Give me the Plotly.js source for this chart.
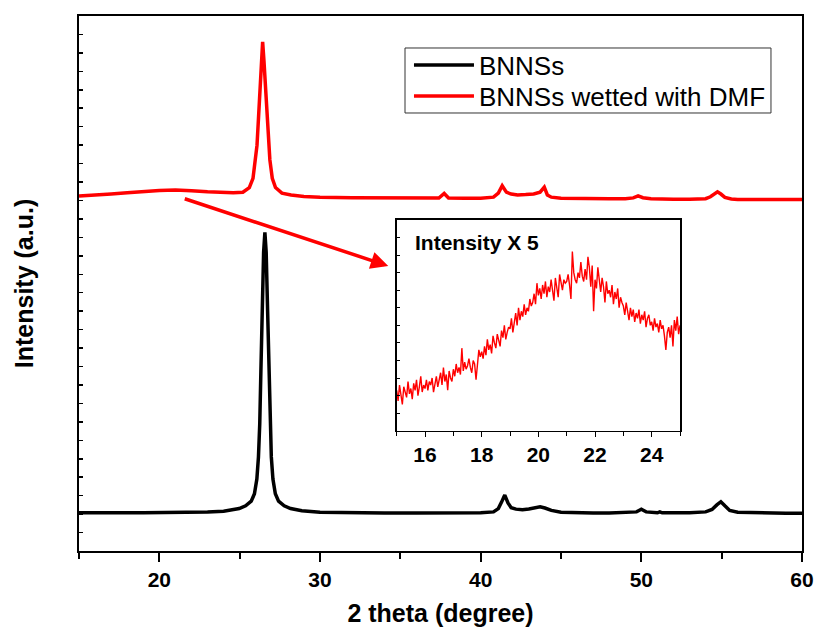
<!DOCTYPE html>
<html>
<head>
<meta charset="utf-8">
<script src="https://cdn.plot.ly/plotly-3.0.1.min.js"></script>
<style>html,body{margin:0;padding:0;background:#fff;}#chart{width:815px;height:634px;}</style>
</head>
<body>
<div id="chart"></div>
<script>
// ---- Main pattern: BNNSs (black) ----
const bnnsX = [15, 16, 17, 18, 19, 20, 21, 22, 23, 24, 24.97, 25.37, 25.72, 25.92, 26.07, 26.17, 26.25, 26.32, 26.40, 26.49, 26.57, 26.65, 26.74, 26.82, 26.89, 26.97, 27.07, 27.22, 27.42, 27.77, 28.17, 28.87, 30, 32, 34, 36, 38, 40, 40.8, 41.1, 41.3, 41.5, 41.7, 41.9, 42.2, 42.6, 43.0, 43.4, 43.7, 44.0, 44.4, 45, 46, 47, 48, 49, 49.7, 50.0, 50.3, 51.0, 51.15, 51.3, 52, 53, 54, 54.4, 54.7, 54.95, 55.2, 55.5, 56, 57, 58, 59, 60];
const bnnsY = [2.07, 2.06, 2.07, 2.07, 2.08, 2.08, 2.09, 2.10, 2.12, 2.16, 2.30, 2.45, 2.70, 3.10, 3.90, 5.10, 6.90, 9.70, 13.0, 16.2, 17.27, 16.2, 13.0, 9.70, 6.90, 5.10, 3.90, 3.10, 2.70, 2.45, 2.30, 2.18, 2.10, 2.07, 2.06, 2.06, 2.06, 2.07, 2.12, 2.30, 2.65, 3.03, 2.60, 2.35, 2.27, 2.24, 2.28, 2.36, 2.40, 2.33, 2.20, 2.10, 2.07, 2.06, 2.06, 2.07, 2.12, 2.26, 2.12, 2.07, 2.12, 2.07, 2.06, 2.07, 2.12, 2.25, 2.50, 2.67, 2.45, 2.20, 2.10, 2.07, 2.06, 2.05, 2.04];

// ---- Main pattern: BNNSs wetted with DMF (red) ----
const dmfX = [15, 16, 17, 18, 19, 20, 21, 21.5, 22, 23, 24, 24.6, 25.2, 25.6, 25.83, 25.98, 26.08, 26.18, 26.28, 26.35, 26.43, 26.51, 26.58, 26.68, 26.78, 26.88, 27.03, 27.23, 27.63, 28.2, 29, 30, 32, 34, 36, 37.4, 37.73, 38.0, 39, 40, 40.8, 41.1, 41.34, 41.6, 41.9, 42.3, 42.8, 43.3, 43.7, 43.96, 44.15, 44.4, 45, 46, 47, 48, 49, 49.5, 49.8, 50.1, 50.6, 51, 52, 53, 54, 54.3, 54.55, 54.74, 54.95, 55.2, 55.6, 56, 57, 58, 59, 60];
const dmfY = [19.24, 19.28, 19.35, 19.42, 19.50, 19.54, 19.57, 19.56, 19.53, 19.47, 19.43, 19.42, 19.45, 19.70, 20.20, 21.20, 22.00, 23.60, 25.50, 26.60, 27.60, 26.60, 25.50, 23.60, 22.00, 21.20, 20.20, 19.70, 19.40, 19.30, 19.22, 19.18, 19.15, 19.13, 19.12, 19.13, 19.38, 19.14, 19.12, 19.12, 19.18, 19.40, 19.80, 19.45, 19.35, 19.30, 19.32, 19.35, 19.45, 19.72, 19.30, 19.18, 19.12, 19.10, 19.10, 19.10, 19.10, 19.14, 19.25, 19.15, 19.10, 19.08, 19.07, 19.07, 19.10, 19.20, 19.38, 19.47, 19.35, 19.17, 19.08, 19.06, 19.06, 19.06, 19.05, 19.05];

// ---- Inset: DMF pattern 15-25 deg, intensity x5 ----
const insetX = [15.00,15.05,15.10,15.15,15.20,15.25,15.30,15.35,15.40,15.45,15.50,15.55,15.60,15.65,15.70,15.75,15.80,15.85,15.90,15.95,
16.00,16.05,16.10,16.15,16.20,16.25,16.30,16.35,16.40,16.45,16.50,16.55,16.60,16.65,16.70,16.75,16.80,16.85,16.90,16.95,
17.00,17.05,17.10,17.15,17.20,17.25,17.30,17.35,17.40,17.45,17.50,17.55,17.60,17.65,17.70,17.75,17.80,17.85,17.90,17.95,
18.00,18.05,18.10,18.15,18.20,18.25,18.30,18.35,18.40,18.45,18.50,18.55,18.60,18.65,18.70,18.75,18.80,18.85,18.90,18.95,
19.00,19.05,19.10,19.15,19.20,19.25,19.30,19.35,19.40,19.45,19.50,19.55,19.60,19.65,19.70,19.75,19.80,19.85,19.90,19.95,
20.00,20.05,20.10,20.15,20.20,20.25,20.30,20.35,20.40,20.45,20.50,20.55,20.60,20.65,20.70,20.75,20.80,20.85,20.90,20.95,
21.00,21.05,21.10,21.15,21.20,21.25,21.30,21.35,21.40,21.45,21.50,21.55,21.60,21.65,21.70,21.75,21.80,21.85,21.90,21.95,
22.00,22.05,22.10,22.15,22.20,22.25,22.30,22.35,22.40,22.45,22.50,22.55,22.60,22.65,22.70,22.75,22.80,22.85,22.90,22.95,
23.00,23.05,23.10,23.15,23.20,23.25,23.30,23.35,23.40,23.45,23.50,23.55,23.60,23.65,23.70,23.75,23.80,23.85,23.90,23.95,
24.00,24.05,24.10,24.15,24.20,24.25,24.30,24.35,24.40,24.45,24.50,24.55,24.60,24.65,24.70,24.75,24.80,24.85,24.90,24.95,
25.00];
const insetY = [2.3,1.7,2.6,2.0,1.5,2.5,2.2,1.9,2.8,2.1,2.4,1.8,2.7,2.3,2.9,2.0,2.5,3.1,2.2,2.6,
2.4,2.9,2.3,2.8,2.6,3.0,2.2,2.7,3.1,2.5,2.9,3.3,2.6,3.6,2.8,3.2,2.3,3.4,3.0,2.8,
3.5,3.1,3.8,3.3,3.6,3.2,4.7,3.4,3.9,3.5,3.7,4.1,3.6,3.3,4.0,3.8,2.9,3.6,4.6,4.2,
4.5,4.1,4.8,4.3,5.2,4.6,4.9,4.4,5.4,5.0,4.7,5.5,5.1,4.8,5.7,5.3,6.0,5.2,5.6,5.9,
5.8,6.4,5.6,6.2,6.7,6.0,7.0,6.3,6.8,6.5,7.2,6.6,7.0,6.8,7.5,7.1,7.3,7.8,7.2,8.4,
7.7,8.1,7.5,8.3,7.8,8.5,7.6,8.2,7.9,8.6,8.0,7.4,8.7,8.2,7.6,8.9,8.3,8.0,8.6,8.4,
8.5,8.9,8.3,7.5,10.2,9.0,8.6,8.4,9.0,8.7,9.6,8.8,8.5,9.2,8.6,9.9,9.3,8.2,9.4,6.8,
8.6,8.1,9.3,8.4,7.9,8.7,8.2,7.3,8.5,7.8,8.0,7.6,8.3,7.2,7.9,7.5,8.1,7.0,7.6,7.3,
7.1,6.6,7.3,6.8,6.3,7.0,6.5,6.9,6.2,6.7,6.4,6.9,6.1,6.6,6.3,6.8,5.9,6.4,6.6,6.0,
6.2,5.7,6.4,5.9,6.1,5.6,6.3,5.8,6.0,5.4,4.6,5.6,5.9,5.3,6.0,4.8,6.3,5.7,6.5,5.5,
6.0];

const legendNames = ['BNNSs', 'BNNSs wetted with DMF'];
const xTitle = '2 theta (degree)';
const yTitle = 'Intensity (a.u.)';
const insetLabel = 'Intensity X 5';

const FONT = 'Liberation Sans, Arial, Helvetica, sans-serif';

const traces = [
  {x: bnnsX, y: bnnsY, type: 'scatter', mode: 'lines', name: legendNames[0], legend: 'legend',
   line: {color: '#000000', width: 3.5}, xaxis: 'x', yaxis: 'y'},
  {x: dmfX, y: dmfY, type: 'scatter', mode: 'lines', name: legendNames[1], legend: 'legend2',
   line: {color: '#ff0000', width: 3.5}, xaxis: 'x', yaxis: 'y'},
  {x: insetX, y: insetY, type: 'scatter', mode: 'lines', showlegend: false,
   line: {color: '#ff0000', width: 1.4}, xaxis: 'x2', yaxis: 'y2'}
];

const legendStyle = {xanchor: 'left', yanchor: 'middle',
  bgcolor: 'rgba(0,0,0,0)', borderwidth: 0,
  font: {family: FONT, size: 26, color: '#000'}, itemwidth: 60};

const layout = {
  width: 815, height: 634,
  margin: {l: 79, r: 13, t: 16, b: 83},
  paper_bgcolor: '#ffffff', plot_bgcolor: '#ffffff',
  font: {family: FONT, color: '#000'},
  showlegend: true,
  legend: Object.assign({x: 0.4564, y: 0.9084}, legendStyle),
  legend2: Object.assign({x: 0.4564, y: 0.8505}, legendStyle),
  shapes: [
    {type: 'rect', xref: 'paper', yref: 'paper', x0: 0.4509, x1: 0.9571, y0: 0.8187, y1: 0.9402,
     line: {color: '#333333', width: 1}, fillcolor: '#ffffff', layer: 'below'}
  ],
  xaxis: {domain: [0, 1], range: [15, 60], anchor: 'y',
    tickmode: 'linear', tick0: 0, dtick: 10,
    ticks: 'outside', ticklen: 9, tickwidth: 2, tickcolor: '#000',
    minor: {dtick: 5, tick0: 0, ticks: 'outside', ticklen: 6, tickwidth: 2, tickcolor: '#000'},
    showline: true, linewidth: 2, linecolor: '#000', mirror: true,
    showgrid: false, zeroline: false,
    tickfont: {family: FONT, size: 21, weight: 'bold'},
    title: {text: xTitle, font: {family: FONT, size: 25, weight: 'bold'}, standoff: 14}},
  yaxis: {domain: [0, 1], range: [0, 29], anchor: 'x',
    tickmode: 'linear', tick0: 0, dtick: 1,
    ticks: 'inside', ticklen: 4, tickwidth: 1.5, tickcolor: '#000',
    showticklabels: false,
    showline: true, linewidth: 2, linecolor: '#000', mirror: true,
    showgrid: false, zeroline: false,
    title: {text: yTitle, font: {family: FONT, size: 25, weight: 'bold'}, standoff: 36}},
  xaxis2: {domain: [0.4394, 0.8313], range: [15, 25], anchor: 'y2',
    tickmode: 'linear', tick0: 0, dtick: 2,
    ticks: 'outside', ticklen: 5, tickwidth: 1, tickcolor: '#000',
    minor: {dtick: 1, tick0: 0, ticks: 'outside', ticklen: 4, tickwidth: 1, tickcolor: '#000'},
    showline: true, linewidth: 1.5, linecolor: '#000', mirror: true,
    showgrid: false, zeroline: false,
    tickfont: {family: FONT, size: 21, weight: 'bold'}},
  yaxis2: {domain: [0.2249, 0.6187], range: [0, 12], anchor: 'x2',
    tickmode: 'linear', tick0: 0, dtick: 1,
    ticks: 'inside', ticklen: 3, tickwidth: 1, tickcolor: '#000',
    showticklabels: false,
    showline: true, linewidth: 1.5, linecolor: '#000', mirror: true,
    showgrid: false, zeroline: false},
  annotations: [
    {xref: 'x2', yref: 'y2', x: 15.58, y: 10.71, xanchor: 'left', yanchor: 'middle',
     text: insetLabel, showarrow: false, font: {family: FONT, size: 21, weight: 'bold', color: '#000'}},
    {xref: 'x', yref: 'y', x: 34.25, y: 15.45, axref: 'x', ayref: 'y', ax: 21.49, ay: 19.12,
     text: '', showarrow: true, arrowhead: 2, arrowsize: 1, arrowwidth: 3.5, arrowcolor: '#ff0000', standoff: 0}
  ]
};

Plotly.newPlot('chart', traces, layout, {displayModeBar: false, staticPlot: true});
</script>
</body>
</html>
